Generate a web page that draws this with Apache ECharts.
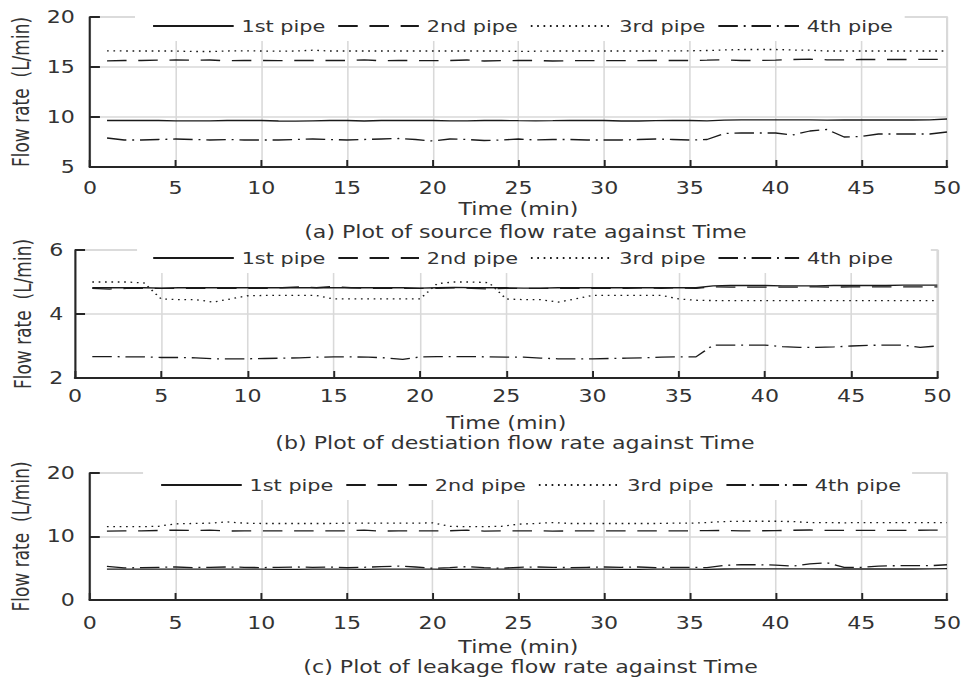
<!DOCTYPE html>
<html>
<head>
<meta charset="utf-8">
<title>Flow rate against Time</title>
<script src="https://cdn.jsdelivr.net/npm/echarts@6/dist/echarts.min.js"></script>
<style>
	html, body { margin: 0; padding: 0; background: #fff; overflow: hidden; }
	/* the original figure is stretched sideways, so draw narrow and widen it */
	#chart { width: 742px; height: 677px; transform: scaleX(1.3005); transform-origin: 0 0; }
</style>
</head>
<body>
<div id="chart"></div>
<script>
// time in minutes
var time = [1, 2, 3, 4, 5, 6, 7, 8, 9, 10, 11, 12, 13, 14, 15, 16, 17, 18, 19, 20,
	21, 22, 23, 24, 25, 26, 27, 28, 29, 30, 31, 32, 33, 34, 35, 36, 37, 38, 39, 40,
	41, 42, 43, 44, 45, 46, 47, 48, 49, 50];
var pipeNames = ['1st pipe', '2nd pipe', '3rd pipe', '4th pipe'];

// (a) source flow rate
var source1 = [9.65, 9.65, 9.65, 9.65, 9.62, 9.62, 9.62, 9.65, 9.65, 9.65, 9.60, 9.58, 9.62, 9.65, 9.65, 9.60, 9.65, 9.65, 9.65, 9.65,
	9.62, 9.62, 9.65, 9.65, 9.63, 9.62, 9.63, 9.65, 9.65, 9.65, 9.60, 9.60, 9.63, 9.65, 9.65, 9.62, 9.68, 9.72, 9.72, 9.72,
	9.72, 9.72, 9.68, 9.70, 9.70, 9.70, 9.70, 9.70, 9.72, 9.80];
var source2 = [15.62, 15.65, 15.65, 15.68, 15.70, 15.68, 15.70, 15.62, 15.65, 15.65, 15.63, 15.65, 15.65, 15.65, 15.65, 15.72, 15.62, 15.65, 15.65, 15.63,
	15.65, 15.70, 15.60, 15.63, 15.65, 15.65, 15.60, 15.63, 15.63, 15.63, 15.63, 15.63, 15.65, 15.65, 15.65, 15.68, 15.72, 15.65, 15.65, 15.68,
	15.75, 15.78, 15.72, 15.72, 15.75, 15.75, 15.75, 15.75, 15.77, 15.77];
var source3 = [16.62, 16.60, 16.60, 16.60, 16.60, 16.55, 16.55, 16.60, 16.62, 16.60, 16.58, 16.60, 16.68, 16.60, 16.60, 16.60, 16.60, 16.60, 16.60, 16.60,
	16.60, 16.60, 16.60, 16.60, 16.55, 16.58, 16.60, 16.60, 16.60, 16.60, 16.60, 16.60, 16.60, 16.62, 16.62, 16.65, 16.70, 16.75, 16.75, 16.75,
	16.70, 16.68, 16.60, 16.60, 16.60, 16.60, 16.60, 16.60, 16.60, 16.60];
var source4 = [7.90, 7.70, 7.70, 7.75, 7.80, 7.75, 7.70, 7.75, 7.70, 7.70, 7.70, 7.75, 7.80, 7.75, 7.70, 7.75, 7.80, 7.85, 7.75, 7.60,
	7.80, 7.75, 7.65, 7.70, 7.80, 7.70, 7.75, 7.75, 7.70, 7.70, 7.70, 7.75, 7.80, 7.75, 7.70, 7.75, 8.35, 8.40, 8.40, 8.40,
	8.20, 8.60, 8.75, 8.00, 8.05, 8.30, 8.30, 8.30, 8.30, 8.50];

// (b) destination flow rate
var dest1 = [4.82, 4.82, 4.82, 4.82, 4.81, 4.82, 4.82, 4.82, 4.82, 4.82, 4.82, 4.82, 4.82, 4.82, 4.82, 4.82, 4.82, 4.82, 4.82, 4.81,
	4.82, 4.83, 4.82, 4.82, 4.82, 4.81, 4.81, 4.82, 4.82, 4.82, 4.82, 4.82, 4.82, 4.82, 4.82, 4.82, 4.88, 4.89, 4.89, 4.89,
	4.88, 4.88, 4.88, 4.89, 4.89, 4.89, 4.89, 4.90, 4.90, 4.90];
var dest2 = [4.80, 4.78, 4.80, 4.80, 4.80, 4.80, 4.80, 4.80, 4.80, 4.80, 4.80, 4.82, 4.85, 4.82, 4.86, 4.82, 4.80, 4.80, 4.80, 4.80,
	4.80, 4.82, 4.80, 4.78, 4.80, 4.80, 4.80, 4.80, 4.80, 4.80, 4.80, 4.80, 4.82, 4.80, 4.82, 4.80, 4.85, 4.84, 4.84, 4.84,
	4.84, 4.84, 4.85, 4.84, 4.85, 4.85, 4.85, 4.85, 4.85, 4.85];
var dest3 = [5.00, 5.00, 5.00, 4.97, 4.47, 4.45, 4.45, 4.37, 4.47, 4.57, 4.58, 4.58, 4.58, 4.58, 4.47, 4.47, 4.47, 4.47, 4.47, 4.47,
	4.95, 5.00, 5.00, 4.98, 4.47, 4.45, 4.45, 4.37, 4.47, 4.58, 4.58, 4.58, 4.58, 4.58, 4.47, 4.43, 4.42, 4.42, 4.42, 4.42,
	4.42, 4.42, 4.42, 4.42, 4.42, 4.42, 4.42, 4.42, 4.42, 4.42];
var dest4 = [2.67, 2.67, 2.66, 2.66, 2.64, 2.64, 2.63, 2.60, 2.60, 2.60, 2.61, 2.62, 2.63, 2.65, 2.66, 2.66, 2.65, 2.63, 2.58, 2.66,
	2.67, 2.67, 2.67, 2.66, 2.65, 2.65, 2.62, 2.60, 2.60, 2.60, 2.61, 2.62, 2.63, 2.65, 2.66, 2.66, 3.03, 3.03, 3.03, 3.03,
	2.98, 2.96, 2.96, 2.97, 3.00, 3.02, 3.03, 3.03, 2.96, 3.00];

// (c) leakage flow rate
var leak1 = [4.85, 4.85, 4.85, 4.85, 4.85, 4.85, 4.85, 4.85, 4.85, 4.85, 4.82, 4.82, 4.85, 4.85, 4.85, 4.83, 4.85, 4.85, 4.85, 4.85,
	4.83, 4.83, 4.85, 4.85, 4.85, 4.83, 4.83, 4.85, 4.85, 4.85, 4.82, 4.82, 4.85, 4.85, 4.85, 4.83, 4.88, 4.90, 4.90, 4.90,
	4.90, 4.90, 4.88, 4.88, 4.88, 4.88, 4.88, 4.88, 4.90, 4.95];
var leak2 = [10.85, 10.90, 10.90, 10.95, 11.00, 10.95, 11.00, 10.85, 10.90, 10.90, 10.88, 10.90, 10.90, 10.90, 10.90, 11.00, 10.85, 10.90, 10.90, 10.88,
	10.90, 11.00, 10.85, 10.88, 10.90, 10.90, 10.85, 10.88, 10.88, 10.88, 10.88, 10.88, 10.90, 10.90, 10.90, 10.92, 10.95, 10.90, 10.90, 10.92,
	10.98, 11.02, 10.95, 10.95, 10.98, 10.98, 10.98, 10.98, 11.00, 11.00];
var leak3 = [11.55, 11.55, 11.55, 11.60, 12.00, 12.05, 12.10, 12.30, 12.10, 12.05, 12.05, 12.05, 12.05, 12.05, 12.10, 12.10, 12.10, 12.10, 12.10, 12.15,
	11.60, 11.55, 11.55, 11.60, 11.95, 12.05, 12.20, 12.05, 12.05, 12.05, 12.05, 12.05, 12.05, 12.10, 12.10, 12.20, 12.35, 12.40, 12.40, 12.40,
	12.35, 12.20, 12.20, 12.15, 12.20, 12.20, 12.20, 12.20, 12.20, 12.20];
var leak4 = [5.30, 5.05, 5.10, 5.15, 5.20, 5.10, 5.15, 5.20, 5.15, 5.10, 5.15, 5.20, 5.15, 5.20, 5.10, 5.15, 5.25, 5.35, 5.20, 5.00,
	5.10, 5.25, 5.10, 5.00, 5.15, 5.20, 5.15, 5.10, 5.15, 5.20, 5.15, 5.20, 5.10, 5.15, 5.15, 5.10, 5.45, 5.55, 5.55, 5.50,
	5.35, 5.70, 5.85, 5.15, 5.15, 5.35, 5.40, 5.40, 5.40, 5.55];

var titles = ['(a) Plot of source flow rate against Time',
	'(b) Plot of destiation flow rate against Time',
	'(c) Plot of leakage flow rate against Time'];
var yRanges = [[5, 20, 5], [2, 6, 2], [0, 20, 10]];
var panelValues = [[source1, source2, source3, source4], [dest1, dest2, dest3, dest4], [leak1, leak2, leak3, leak4]];

// layout of each panel (x values are before the sideways stretch)
var layout = [
	{ left: 65.4, top: 17, width: 665.4, height: 150, xMargin: 13, nameGap: 34, yMargin: 11.6, yNameGap: 37.5,
		legendLeft: 103.8, legendTop: 11, legendPad: [7, 9, 7, 13], titleX: 404, titleY: 224 },
	{ left: 57.7, top: 250, width: 663.1, height: 128, xMargin: 10, nameGap: 37, yMargin: 9, yNameGap: 27.5,
		legendLeft: 105.4, legendTop: 243, legendPad: [7, 29, 7, 11.5], titleX: 396, titleY: 435 },
	{ left: 66.9, top: 473, width: 665.4, height: 127, xMargin: 15, nameGap: 39, yMargin: 11.5, yNameGap: 37.5,
		legendLeft: 110, legendTop: 470, legendPad: [7, 8.5, 7, 13], titleX: 408, titleY: 659 }
];

var font = 'DejaVu Sans';
var ink = '#262626';
var textInk = '#333';
var gridGray = '#d9d9d9';
var lineTypes = ['solid', [15, 9], [1.3, 3.6], [15, 4.5, 1.5, 4.5]];

var grids = [], xAxes = [], yAxes = [], legends = [], titleList = [], series = [];

layout.forEach(function(p, i) {
	grids.push({
		left: p.left, top: p.top, width: p.width, height: p.height,
		show: true, borderColor: gridGray, borderWidth: 1.5, backgroundColor: '#fff'
	});

	xAxes.push({
		type: 'value', gridIndex: i, min: 0, max: 50, interval: 5,
		name: 'Time (min)', nameLocation: 'middle', nameGap: p.nameGap,
		nameTextStyle: { fontFamily: font, fontSize: 17, color: textInk },
		axisLine: { show: true, onZero: false, lineStyle: { color: ink, width: 2 } },
		axisTick: { show: true, inside: true, length: 7, lineStyle: { color: ink, width: 1.5 } },
		axisLabel: { margin: p.xMargin, fontFamily: font, fontSize: 17, color: textInk },
		splitLine: { show: true, lineStyle: { color: gridGray, width: 1.2 } }
	});

	yAxes.push({
		type: 'value', gridIndex: i, min: yRanges[i][0], max: yRanges[i][1], interval: yRanges[i][2],
		name: 'Flow rate  (L/min)', nameLocation: 'middle', nameGap: p.yNameGap,
		nameTextStyle: { fontFamily: font, fontSize: 17, color: textInk },
		axisLine: { show: true, onZero: false, lineStyle: { color: ink, width: 1.6 } },
		axisTick: { show: true, inside: true, length: 7.7, lineStyle: { color: ink, width: 2 } },
		axisLabel: { margin: p.yMargin, fontFamily: font, fontSize: 17, color: textInk },
		splitLine: { show: true, lineStyle: { color: gridGray, width: 1.5 } }
	});

	legends.push({
		data: pipeNames, left: p.legendLeft, top: p.legendTop, padding: p.legendPad,
		itemWidth: 62, itemHeight: 16, itemGap: 9, backgroundColor: '#fff', z: 10,
		selectedMode: false,
		itemStyle: { opacity: 0 },
		lineStyle: { width: 1.8 },
		textStyle: { fontFamily: font, fontSize: 16, lineHeight: 16, color: textInk, padding: [0, 0, 0, 1] }
	});

	titleList.push({
		text: titles[i], left: p.titleX, top: p.titleY, textAlign: 'center', padding: 0,
		textStyle: { fontFamily: font, fontSize: 17, fontWeight: 'normal', color: textInk }
	});

	panelValues[i].forEach(function(vals, k) {
		series.push({
			name: pipeNames[k], type: 'line', xAxisIndex: i, yAxisIndex: i,
			symbol: 'none', silent: true,
			data: time.map(function(t, j) { return [t, vals[j]]; }),
			lineStyle: { color: '#1a1a1a', width: 1.3, type: lineTypes[k] },
			itemStyle: { color: '#1a1a1a' }
		});
	});
});

var myChart = echarts.init(document.getElementById('chart'), null, { renderer: 'svg' });
myChart.setOption({
	animation: false,
	backgroundColor: '#fff',
	title: titleList,
	legend: legends,
	grid: grids,
	xAxis: xAxes,
	yAxis: yAxes,
	series: series
});
</script>
</body>
</html>
